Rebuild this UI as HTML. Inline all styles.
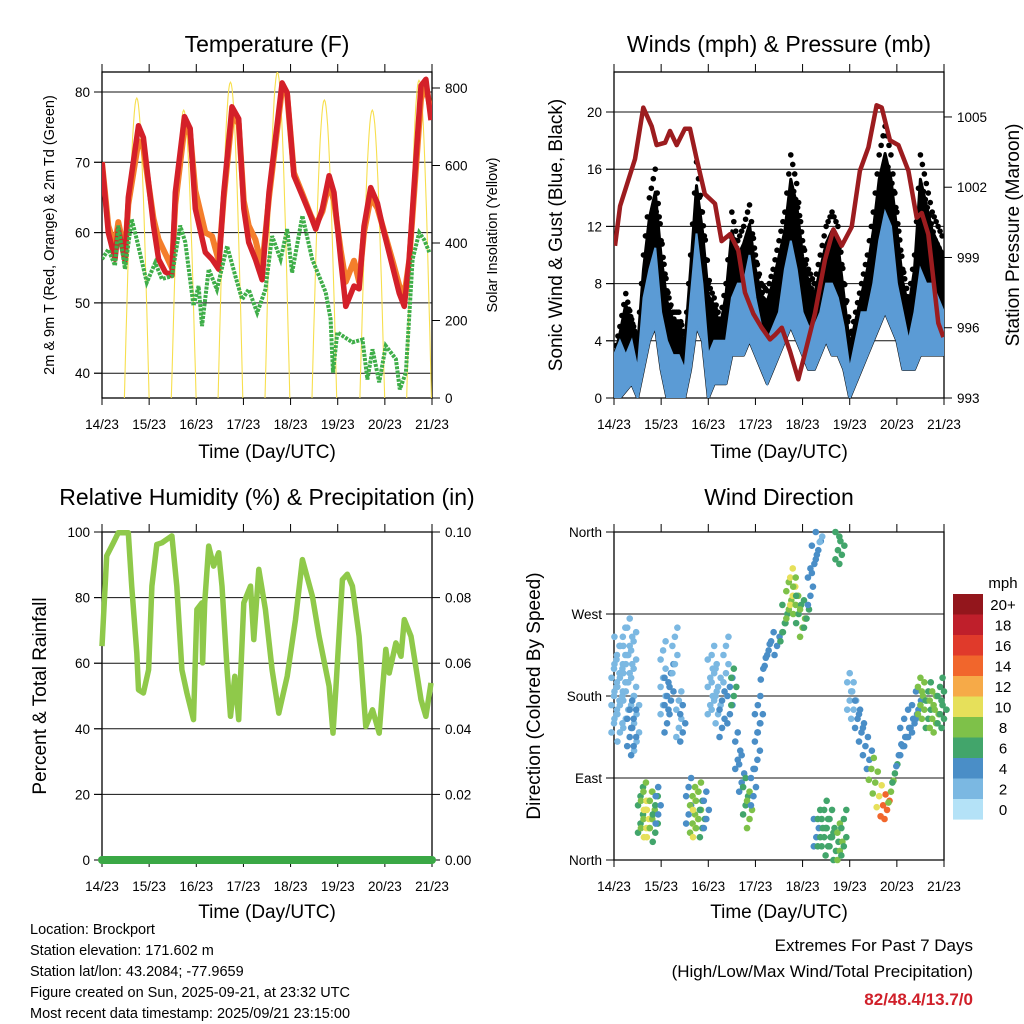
<!DOCTYPE html>
<html><head><meta charset="utf-8">
<style>
html,body{margin:0;padding:0;background:#fff;}
svg{display:block;font-family:"Liberation Sans",sans-serif;}
</style></head>
<body>
<svg id="chart" width="1024" height="1024" viewBox="0 0 1024 1024" xmlns="http://www.w3.org/2000/svg">
<rect x="0" y="0" width="1024" height="1024" fill="#fff"/>
<text x="267" y="52" font-size="23" text-anchor="middle">Temperature (F)</text>
<text x="779" y="52" font-size="23" text-anchor="middle">Winds (mph) &amp; Pressure (mb)</text>
<text x="267" y="505" font-size="23" text-anchor="middle">Relative Humidity (%) &amp; Precipitation (in)</text>
<text x="779" y="505" font-size="23" text-anchor="middle">Wind Direction</text>
<text x="267" y="458" font-size="19" text-anchor="middle">Time (Day/UTC)</text>
<text x="779" y="458" font-size="19" text-anchor="middle">Time (Day/UTC)</text>
<text x="267" y="918" font-size="19" text-anchor="middle">Time (Day/UTC)</text>
<text x="779" y="918" font-size="19" text-anchor="middle">Time (Day/UTC)</text>
<text transform="translate(54,235) rotate(-90)" font-size="14.5" text-anchor="middle">2m &amp; 9m T (Red, Orange) &amp; 2m Td (Green)</text>
<text transform="translate(497,235) rotate(-90)" font-size="14.5" text-anchor="middle">Solar Insolation (Yellow)</text>
<text transform="translate(562,235) rotate(-90)" font-size="19" text-anchor="middle">Sonic Wind &amp; Gust (Blue, Black)</text>
<text transform="translate(1019,235) rotate(-90)" font-size="19" text-anchor="middle">Station Pressure (Maroon)</text>
<text transform="translate(46,696) rotate(-90)" font-size="19" text-anchor="middle">Percent &amp; Total Rainfall</text>
<text transform="translate(540,696) rotate(-90)" font-size="19" text-anchor="middle">Direction (Colored By Speed)</text>
<g font-size="14.5">
<text x="30" y="934">Location: Brockport</text>
<text x="30" y="955">Station elevation: 171.602 m</text>
<text x="30" y="976">Station lat/lon: 43.2084; -77.9659</text>
<text x="30" y="997">Figure created on Sun, 2025-09-21, at 23:32 UTC</text>
<text x="30" y="1018">Most recent data timestamp: 2025/09/21 23:15:00</text>
</g>
<text x="973" y="951" font-size="17" text-anchor="end">Extremes For Past 7 Days</text>
<text x="973" y="977" font-size="17" text-anchor="end">(High/Low/Max Wind/Total Precipitation)</text>
<text x="973" y="1005" font-size="17" font-weight="bold" fill="#d0202a" text-anchor="end">82/48.4/13.7/0</text>
<text x="1003" y="588" font-size="15" text-anchor="middle">mph</text>
</svg>
<script>
// ---------- DATA ----------
const dayLabels = ["14/23","15/23","16/23","17/23","18/23","19/23","20/23","21/23"];
const tempTime = [0,3.2,6.6,8.3,11.7,13.4,18.6,21.1,26.2,28.8,32.2,35.6,37.3,42,44.9,47.5,52.6,56,59.4,62,66.2,69.6,72.2,74.7,78.1,81.5,85,91.7,94.3,97.7,102,106.2,108.8,112.2,115.6,118.1,121.5,124.1,128.3,130.9,133.4,136.8,140.2,142.8,147.9,151.3,153.9,156.4,159.8,162.4,164.9,167.5];
const temp2m = [70,60,56.2,60.5,56,65,75.2,73.5,61,56.2,54.4,53.9,65.7,76.5,74.8,63.4,57.2,56.2,54.8,65.7,77.9,76.2,63.4,58.6,56.2,53.3,65.7,81.3,79.9,68.1,65.2,62.4,60.5,63.4,68.1,65.7,56.2,49.5,52.4,52,60.9,66.4,64.2,60.9,55.2,51.4,49.5,56.2,70.5,80.9,81.8,76];
const temp9m = [70,61,58,61.5,57,64,73,72,62,59,57,55,64,75,74,66,60,59.5,56,65,76.5,75.5,64.5,61,59,55,65,80.5,79.5,68.5,65.5,62.5,61,63,67,64.5,57.5,53,56,53,60,65,63.5,61,56,52.5,51,56,69,79,81,77];
const dewTime = [0,3.2,6.6,8.3,11.7,15.1,17.7,22.8,27.1,30.5,35.6,39.8,42.4,46.6,49.2,50.9,54.3,58.5,63.7,67.9,71.3,74.7,79,83.2,86.6,90.9,94.3,96.8,102,107,113.9,116.4,117.6,119.8,127.5,132.6,135.1,137.7,141.1,144.5,149.6,151.6,154.7,158.1,161.5,164,166.6];
const dewpoint = [56.2,57.6,55.3,61,54.8,61.9,59,52.9,55.7,53.4,53.8,61,58.6,49.6,52.4,46.7,54.8,51.9,58.1,53.8,50.5,51.9,48.6,51.9,59.5,56.2,60.5,54.3,62.4,56.2,51.5,47.7,40.1,45.8,44.4,44.8,39.1,43.4,38.7,43.9,42,37.7,40.1,56.2,60,59,57.2];
const solarPeaks = [774,743,815,841,769,743,820];
const solarPeakHour = [17.7,41.6,65.4,89.3,113.2,137.6,161.4];

const pressTime = [0.5,3.1,7.3,10.7,14.9,19.2,21.7,26,28.5,31.9,36.1,38.7,42.1,46.3,51.4,54.8,59.1,63.3,66.7,70.9,75.2,79.4,82,85.4,89.6,93.8,97.2,102.3,107.4,111.7,115.9,121,125.2,129.5,133.7,136.3,140.5,144.8,149.9,154.1,156.7,160,165.1,167.7];
const pressure = [999.5,1001.2,1002.3,1003.2,1005.4,1004.6,1003.8,1003.9,1004.4,1003.8,1004.5,1004.5,1003.2,1001.7,1001.3,999.7,1000,999.3,997.5,996.6,996,995.5,995.7,996,995,993.8,994.9,996.6,998.9,1000.2,999.5,1000.3,1002.7,1003.7,1005.5,1005.4,1004,1003.8,1002.7,1000.7,1000.9,1000,996.2,995.6];
const windHi = [3,4,3,4,2,7,9,10.5,6,4,3,3,2,7,11.5,8,3,4,4,4,7,8,8,10,7,5,4,5,6,9,11,9,6,5,5,6,8,8,7,5,2,4,6,6,8,11,13,12,8,6,4,6,9,8,8,7,6];
const windLo = [0,0,0.5,1,0,2,4,5,2,0,0,0,0,2,5,4,0,1,1,1,3,3,3,4,3,2,1,2,3,4,5,4,3,2,2,3,4,3,3,2,0,1,2,3,4,5,6,5,4,2,2,2,3,3,3,3,3];
const gustHi = [3,5,7.3,5.5,4,10,14,16,11,7.5,6,6,4,10,16.5,13,8,7,5.5,8,13,11,12,13.5,10,8,7.5,9,11,13,17,15,11,9,8,10,12,13,12,8,4,6,8,10,13,17,19,17,13,9,7,10,17,15,13,12,11];
const windStep = 3;

const rhTime = [0,2.4,5.8,8.3,13.4,15.1,17.7,18.6,21.1,23.7,25.4,27.9,30.5,35.6,38.1,40.7,43.2,46.6,48.3,50.9,51.2,52.3,54.3,56.8,59.4,61.1,63.7,65.4,67.6,69.6,72.2,75.6,77.3,79.8,83.2,86.6,90,94.3,98.5,102,107.1,110.5,115.6,117.6,119,122.4,124.9,127.5,130.9,134.3,137.7,141.1,142.8,144.5,146.2,149.6,152.2,153.9,157.3,162.4,164.9,167.5];
const rhValues = [65.2,92.7,96.7,99.8,99.8,83.5,63.1,51.9,50.9,58,83.5,96.2,96.7,98.8,83.5,58,50.9,42.8,76.4,78.4,60.1,78.4,95.7,89.6,93.7,83.5,58,43.8,56,42.8,78.4,83.5,67.2,88.6,76.4,58,44.8,56,73.3,91.6,80.4,68.2,53,38.7,51.9,85.5,87.1,83.5,68.2,40.7,45.8,38.7,51.9,64.2,57,66.2,62.1,73.3,68.2,48.9,43.8,54];
const precipTotal = [0,0];
const precipTime = [0,168];

const dirTime = [0,1.5,3,4.5,6,8,10,11.5,8,10,13.5,15,16.5,18,19.5,21,22.5,25,27,29,31,33,35,38,40,41.5,43,45,47,49,51,53,55,57,59,61,63,65,67,69,71,73,74.5,76,78,80,83,86,87,89,91,92.5,94,96,98,100,102,104,106,103,105,107,109,111,113,115,117,114,116,120,122,124,126,128,130,131,133,135,137,139,141,143,145,147,149,151,153,155,156,158,160,162,164,166,168];
const dirDeg = [180,200,170,215,190,230,210,150,150,140,55,60,45,50,55,45,60,200,170,190,230,160,150,65,55,50,60,45,55,190,200,180,160,220,175,190,120,95,70,55,80,130,160,210,225,240,235,250,265,285,300,290,275,260,270,300,330,345,355,30,35,40,25,35,15,20,30,345,340,185,175,160,145,130,110,100,85,70,60,55,75,95,115,130,140,150,155,170,180,175,170,165,160,175,165];
const dirSpread = [40,45,40,40,45,35,40,30,25,25,25,25,20,25,20,25,20,40,30,25,25,25,20,25,25,25,25,20,20,30,35,30,25,25,25,20,20,20,20,20,20,30,20,12,12,10,10,10,15,20,20,20,15,15,15,20,15,15,6,15,20,25,20,20,15,20,25,15,15,20,20,15,15,15,10,12,12,12,12,10,12,10,12,15,15,15,15,15,20,20,25,20,20,25,20];
const dirSpeed = [1,1,1,1,1,1,1,1,3,3,6,8,9,9,8,6,4,1,3,4,1,2,3,4,8,10,7,6,4,1,1,2,3,1,4,6,4,4,6,8,4,4,3,4,4,3,4,5,6,8,10,8,6,7,5,4,4,4,1,4,5,6,6,5,6,7,5,6,6,2,2,4,4,4,4,7,8,10,13,14,8,5,4,4,4,4,3,4,7,8,6,7,8,6,5];
const speedBinLabels = ["20+","18","16","14","12","10","8","6","4","2","0"];
const speedColors = ["#b4e2f7","#7bb8e2","#4a8ec7","#42a56b","#7ec149","#e6e05a","#f6aa48","#f1662c","#e03a2b","#bf1f2b","#93161c"];

// ---------- HELPERS ----------
const NS = "http://www.w3.org/2000/svg";
const svg = document.getElementById("chart");
function el(tag, attrs, parent){
  const e = document.createElementNS(NS, tag);
  for (const k in attrs) e.setAttribute(k, attrs[k]);
  (parent || svg).appendChild(e);
  return e;
}
function xScale(x0){ return t => x0 + t/168*330; }
function pathFrom(xs, ys){ return xs.map((x,i)=>(i?"L":"M")+x.toFixed(1)+","+ys[i].toFixed(1)).join(""); }

function panelFrame(x0, yTop, yBot, name){
  const g = el("g", {});
  
  
  const r = el("rect", {x:x0, y:yTop, width:330, height:yBot-yTop, fill:"none", stroke:"#000", "stroke-width":1.3}, g);
  
  
  const xs = xScale(x0);
  dayLabels.forEach((lab, i) => {
    const x = xs(i*24);
    const tk = el("line", {x1:x, x2:x, y1:yBot, y2:yBot+7, stroke:"#000", "stroke-width":1}, g);
    
    
    const tk2 = el("line", {x1:x, x2:x, y1:yTop, y2:yTop-8, stroke:"#000", "stroke-width":1}, g);
    
    
    const t = el("text", {x:x, y:yBot+31, "font-size":13.5, "text-anchor":"middle"}, g);
    t.textContent = lab;
    
    
  });
  return g;
}
function hTicks(x0, vals, yf, labels, side, name, grid){
  const g = el("g", {});
  
  
  vals.forEach((v,i) => {
    const y = yf(v);
    if (grid){
      const gl = el("line", {x1:x0-8, x2:x0+330, y1:y, y2:y, stroke:"#111", "stroke-width":1}, g);
      
      
    }
    const xe = side==="left" ? x0 : x0+330;
    const tk = el("line", {x1:xe, x2: side==="left"? xe-8 : xe+8, y1:y, y2:y, stroke:"#000", "stroke-width":1}, g);
    
    
    const t = el("text", {x: side==="left" ? x0-12 : x0+343, y:y+5, "font-size":13.5, "text-anchor": side==="left"?"end":"start"}, g);
    t.textContent = labels[i];
    
    
  });
}

// ---------- PANEL 1: TEMPERATURE ----------
const xT = xScale(102);
const yT = v => 92 + (80 - v)*7.03;
const yS = v => 398 - v*0.3875;
panelFrame(102, 72, 398, "temp");
hTicks(102, [80,70,60,50,40], yT, ["80","70","60","50","40"], "left", "temp-y-axis", true);
hTicks(102, [800,600,400,200,0], yS, ["800","600","400","200","0"], "right", "solar-y-axis", false);
const clipT = el("clipPath", {id:"clipT"}); el("rect",{x:102,y:72,width:330,height:326},clipT);
const gT = el("g", {"clip-path":"url(#clipT)"});


solarPeaks.forEach((pk, d) => {
  const c = solarPeakHour[d];
  const ts = [], vs = [];
  for (let k=0;k<=30;k++){ const h = c - 6.3 + k*12.6/30; ts.push(xT(h)); vs.push(yS(pk*Math.sin(Math.PI*k/30))); }
  const p = el("path", {d:pathFrom(ts, vs), fill:"none", stroke:"#f7df4d", "stroke-width":1.1}, gT);
  
  
});
const p9 = el("path", {d:pathFrom(tempTime.map(xT), temp9m.map(yT)), fill:"none", stroke:"#f47e2b", "stroke-width":6, "stroke-linejoin":"round"}, gT);


const p2 = el("path", {d:pathFrom(tempTime.map(xT), temp2m.map(yT)), fill:"none", stroke:"#d42029", "stroke-width":5.5, "stroke-linejoin":"round"}, gT);


const pd = el("path", {d:pathFrom(dewTime.map(xT), dewpoint.map(yT)), fill:"none", stroke:"#3fae49", "stroke-width":4, "stroke-dasharray":"3 1.2"}, gT);



// ---------- PANEL 2: WINDS ----------
const xW = xScale(614);
const yW = v => 398 - v*14.3;
const yP = v => 398 - (v-993)*23.42;
panelFrame(614, 72, 398, "wind");
hTicks(614, [0,4,8,12,16,20], yW, ["0","4","8","12","16","20"], "left", "wind-y-axis", true);
hTicks(614, [1005,1002,999,996,993], yP, ["1005","1002","999","996","993"], "right", "pressure-y-axis", false);
const clipW = el("clipPath", {id:"clipW"}); el("rect",{x:614,y:60,width:330,height:338},clipW);
const gW = el("g", {"clip-path":"url(#clipW)"});


const wT = windHi.map((_,i)=> xW(i*windStep));
const gustBand = el("path", {d: pathFrom(wT, gustHi.map(v=>yW(v*0.9))) + pathFrom(wT.slice().reverse(), windLo.slice().reverse().map(yW)).replace("M","L") + "Z", fill:"#000", stroke:"#000", "stroke-width":3, "stroke-linejoin":"round"}, gW);


for (let i=0;i<gustHi.length-1;i++){
  for (let k=0;k<3;k++){
    const f = k/3;
    const t = (i+f)*windStep;
    const g = gustHi[i] + (gustHi[i+1]-gustHi[i])*f;
    const c = el("circle", {cx:xW(t), cy:yW(g), r:2.8, fill:"#000"}, gW);
    
    
    const c2 = el("circle", {cx:xW(t+1.5), cy:yW(g*0.85), r:2.8, fill:"#000"}, gW);
    
    
  }
}
const windBand = el("path", {d: pathFrom(wT, windHi.map(yW)) + pathFrom(wT.slice().reverse(), windLo.slice().reverse().map(yW)).replace("M","L") + "Z", fill:"#5b9bd5", stroke:"#5b9bd5", "stroke-width":2}, gW);


const pp = el("path", {d:pathFrom(pressTime.map(xW), pressure.map(yP)), fill:"none", stroke:"#9c1c1f", "stroke-width":4.5, "stroke-linejoin":"round"}, gW);



// ---------- PANEL 3: RH ----------
const xR = xScale(102);
const yR = v => 860 - v*3.28;
const yPr = v => 860 - v*3280;
panelFrame(102, 532, 860, "rh");
hTicks(102, [0,20,40,60,80,100], yR, ["0","20","40","60","80","100"], "left", "rh-y-axis", true);
hTicks(102, [0,0.02,0.04,0.06,0.08,0.10], yPr, ["0.00","0.02","0.04","0.06","0.08","0.10"], "right", "precip-y-axis", false);
const pr = el("path", {d:pathFrom(rhTime.map(xR), rhValues.map(yR)), fill:"none", stroke:"#8fc94a", "stroke-width":5.5, "stroke-linejoin":"round"}, svg);


const ppr = el("path", {d:pathFrom(precipTime.map(xR), precipTotal.map(yPr)), fill:"none", stroke:"#3aa845", "stroke-width":8, "stroke-linecap":"round"}, svg);



// ---------- PANEL 4: WIND DIRECTION ----------
const xD = xScale(614);
const yD = d => 860 - d*0.9111;
panelFrame(614, 532, 860, "dir");
hTicks(614, [0,90,180,270,360], yD, ["North","East","South","West","North"], "left", "dir-y-axis", true);
const gD = el("g", {});


dirTime.forEach((t,i) => {
  const bin = Math.min(10, Math.round(dirSpeed[i]/2));
  const sp = dirSpread[i];
  const n = Math.max(2, Math.round(sp/5));
  for (let k=0;k<=n;k++){
    const d = dirDeg[i] - sp + 2*sp*k/n;
    if (d < 0 || d > 360) continue;
    const c = el("circle", {cx:xD(t) + ((k%3)-1)*2.5, cy:yD(d), r:3.3, fill:speedColors[bin]}, gD);
    
    
  }
});

// ---------- COLORBAR ----------
const gC = el("g", {});


speedBinLabels.forEach((lab, i) => {
  const y = 594 + i*20.5;
  const r = el("rect", {x:953, y:y, width:30, height:20.6, fill:speedColors[10-i]}, gC);
  
  
  const t = el("text", {x:1003, y:y+16, "font-size":15, "text-anchor":"middle"}, gC);
  t.textContent = lab;
  
  
});
</script>
</body></html>
